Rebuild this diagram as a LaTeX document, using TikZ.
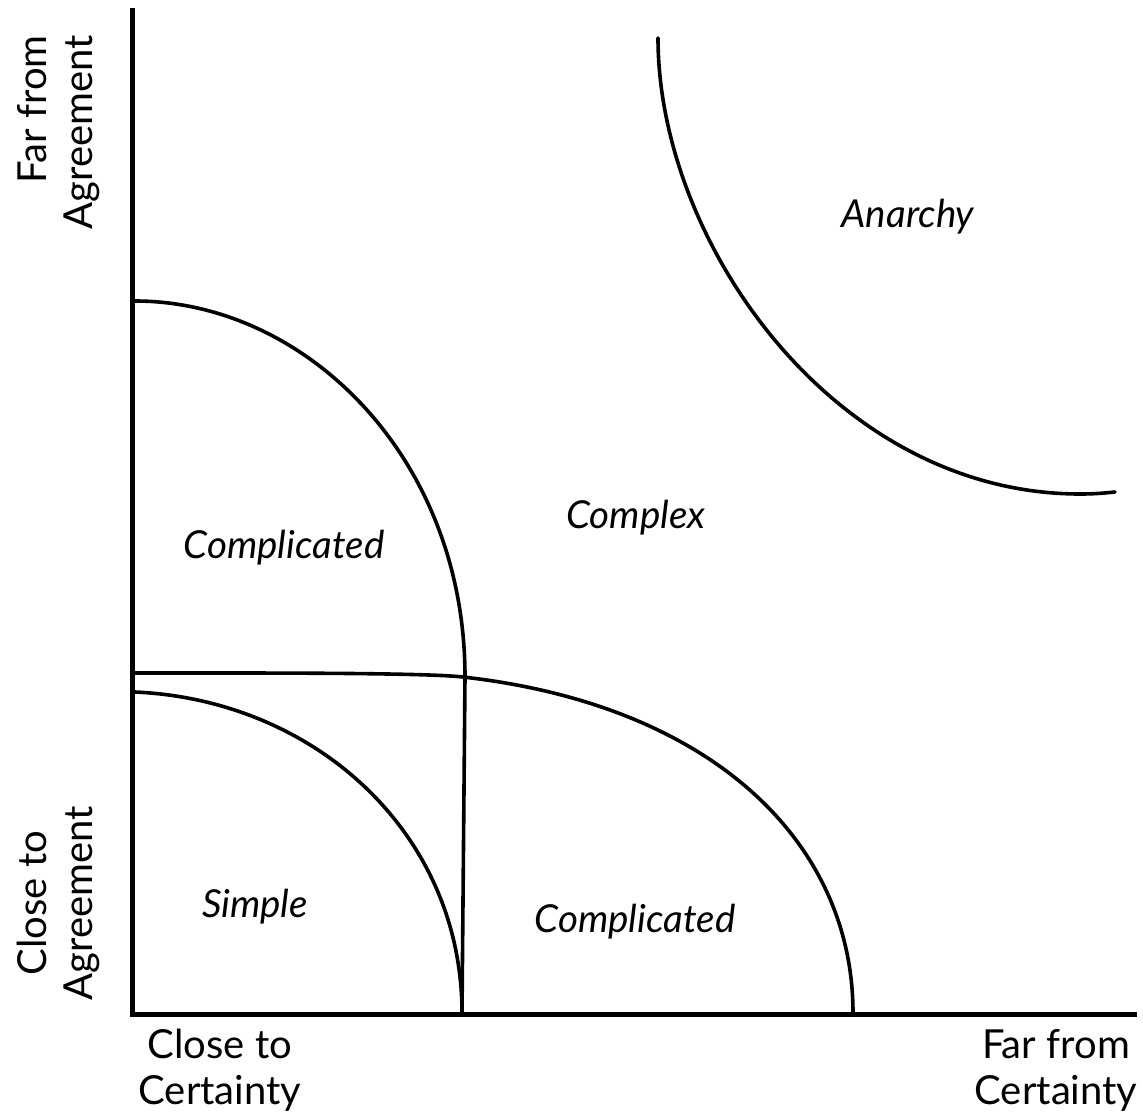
\documentclass[tikz,border=0pt]{standalone}
\usepackage{fontspec}
\setmainfont{Lato}
\begin{document}
\begin{tikzpicture}[x=1pt,y=-1pt,
  axis/.style={line width=5pt,line join=miter},
  bound/.style={line width=3.6pt,line cap=round},
  region/.style={inner sep=0pt,anchor=base,font=\fontsize{38.5}{46}\selectfont\itshape},
  axlabel/.style={inner sep=0pt,align=center,font=\fontsize{40}{46}\selectfont}]
\useasboundingbox[fill=white] (0,0) rectangle (1143,1118);
% axes
\draw[axis] (132.5,8) -- (132.5,1014.5) -- (1137,1014.5);
% anarchy boundary
\draw[bound] (658,38) .. controls (658,243) and (835,494) .. (1080,494)
  .. controls (1095,494) and (1105,493) .. (1115,492);
% upper complicated boundary + vertical divider
\draw[bound] (135,301) .. controls (305,301) and (465,457) .. (465,677) -- (462,1013);
% horizontal divider / lower complicated boundary
\draw[bound] (135,673) .. controls (250,673) and (423,672.5) .. (463,677)
  .. controls (713,705) and (853,843) .. (853,1013);
% simple boundary
\draw[bound] (135,692) .. controls (315,700) and (462,833) .. (462,1013);
% region labels
\node[region] (anarchy) at (908,227) {Anarchy};
\node[region] (complex) at (636,528) {Complex};
\node[region] (compup) at (284,558) {Complicated};
\node[region] (simple) at (255,917) {Simple};
\node[region] (complow) at (635,932) {Complicated};
% axis labels
\node[axlabel,anchor=north] (closecert) at (220,1029) {Close to\\Certainty};
\node[axlabel,anchor=north] (farcert) at (1056,1029) {Far from\\Certainty};
\node[axlabel,align=right,rotate=90,anchor=south east] (faragr) at (100,35) {Far from\\Agreement};
\node[axlabel,rotate=90,anchor=south] (closeagr) at (100,903) {Close to\\Agreement};
\end{tikzpicture}
\end{document}
